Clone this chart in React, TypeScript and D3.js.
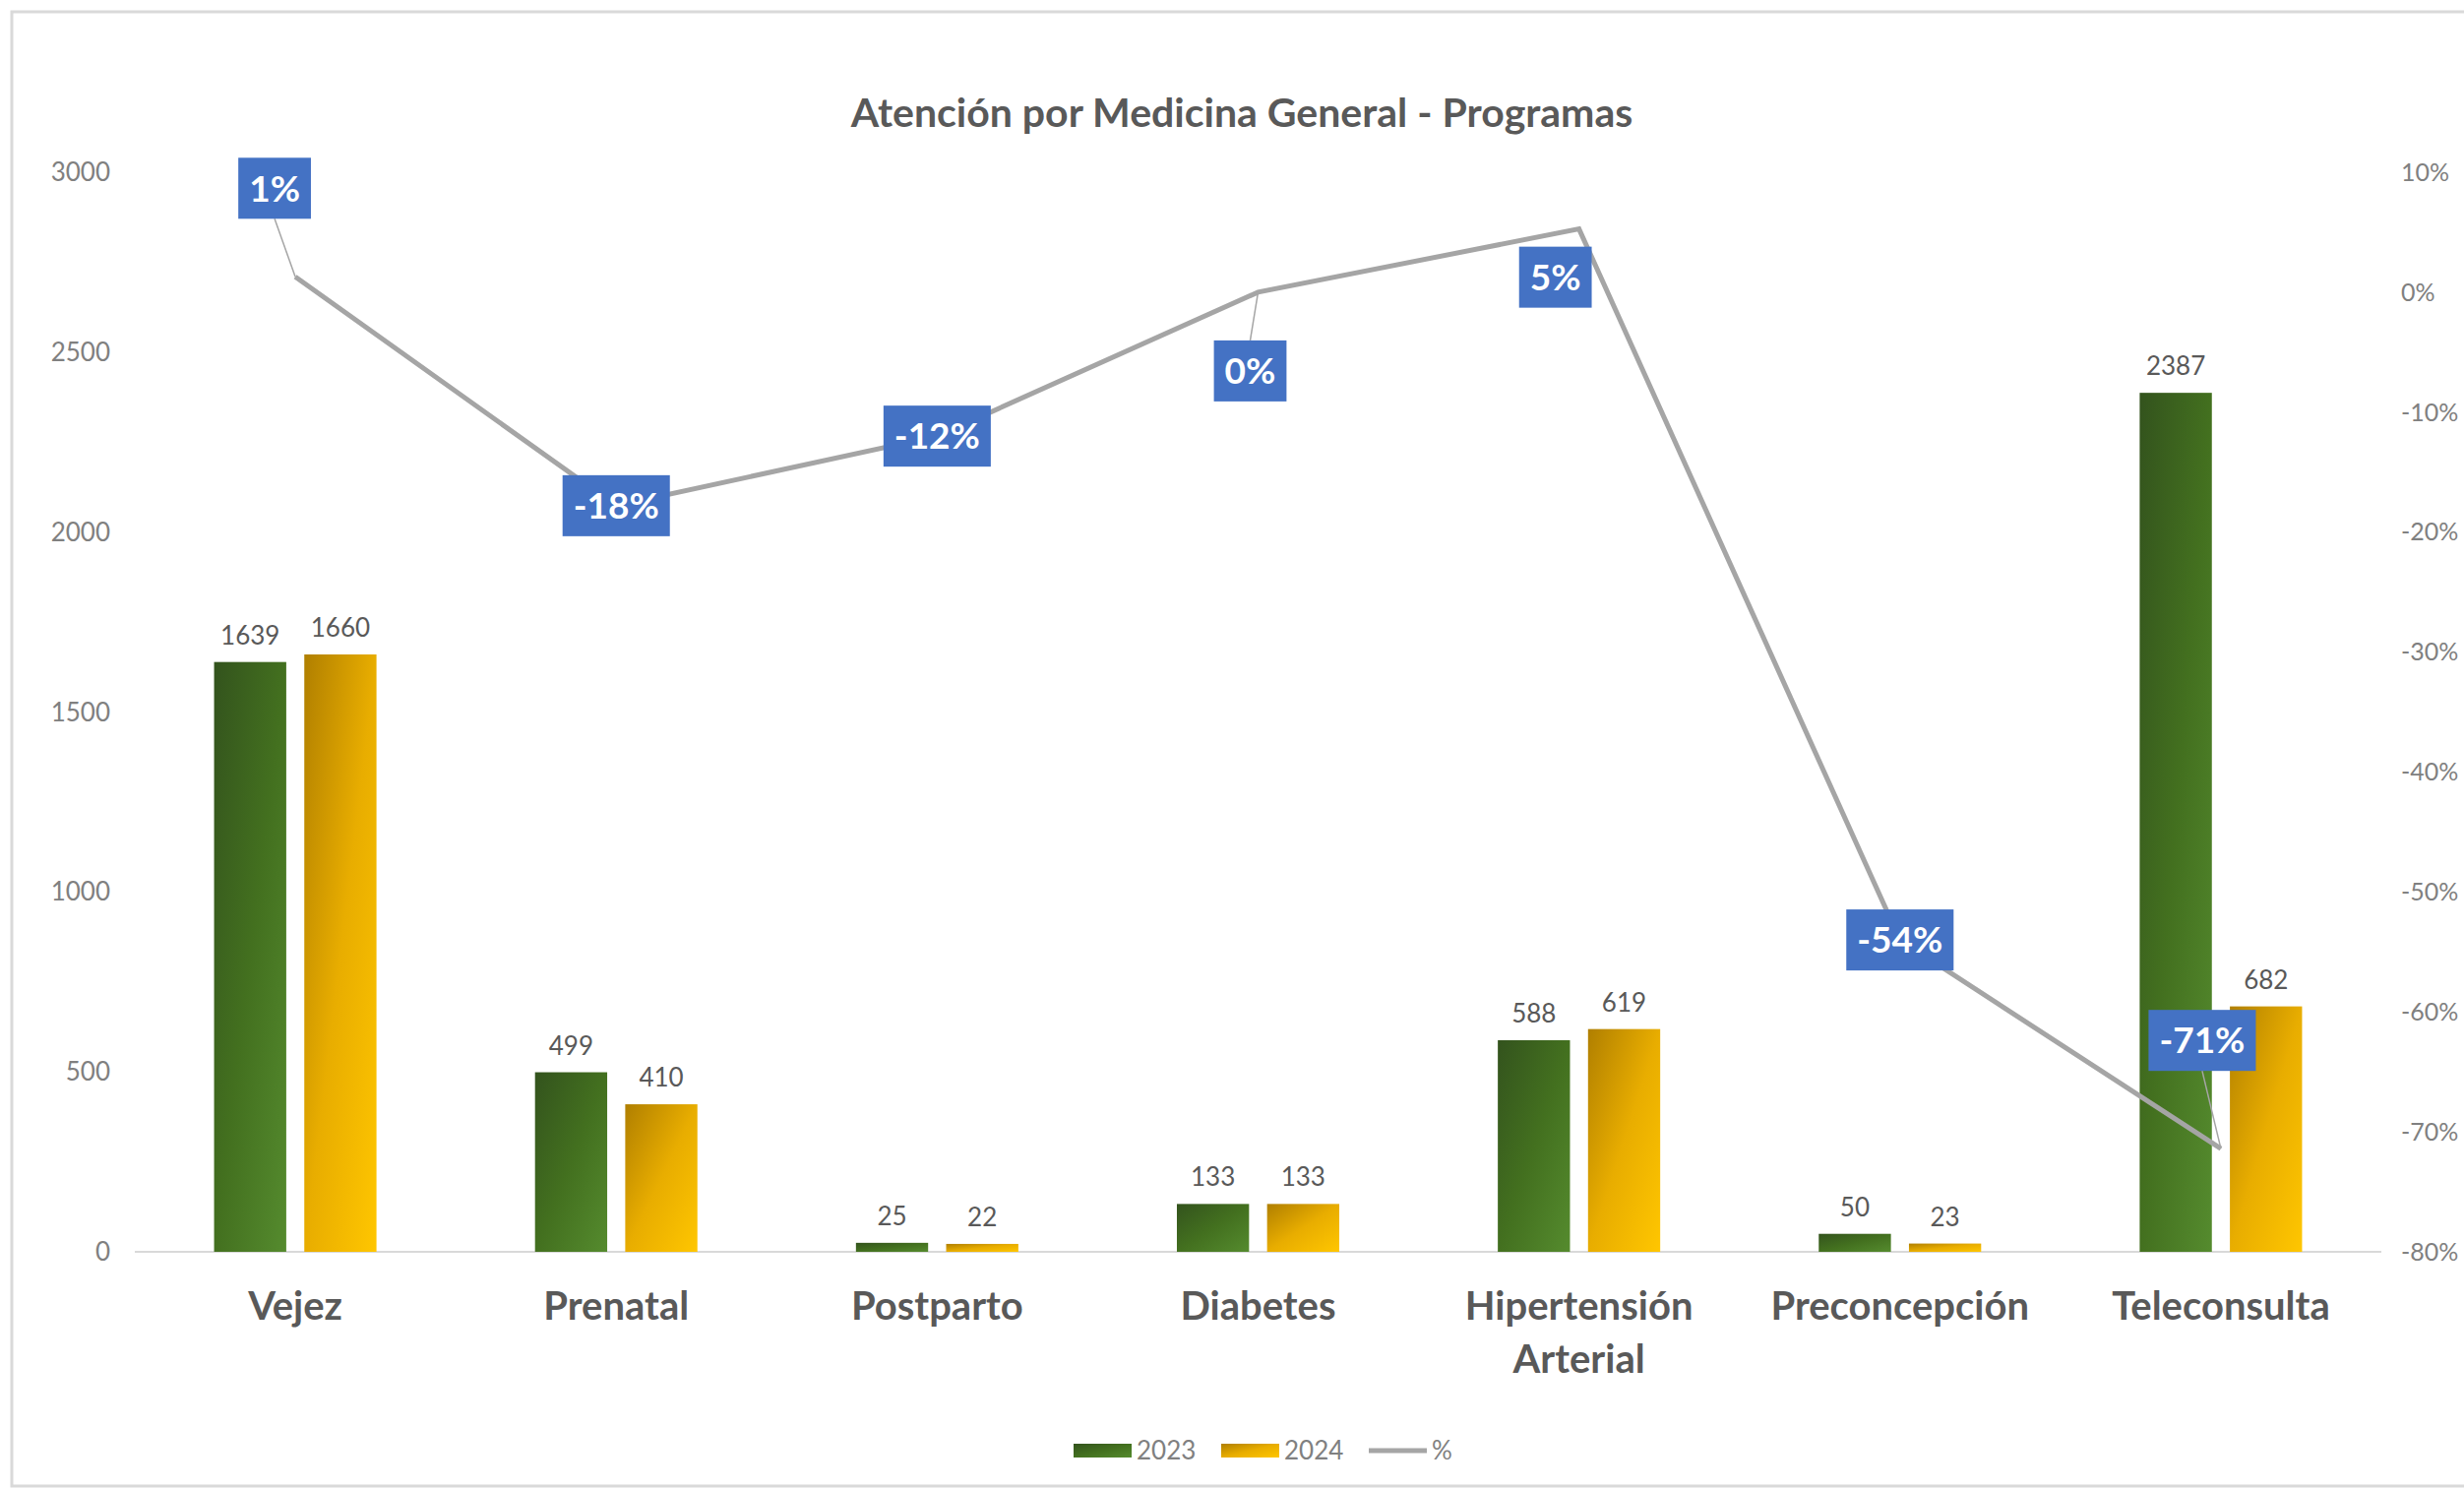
import React, { useEffect, useRef } from 'react';
import * as d3 from 'd3';

const categories = ['Vejez', 'Prenatal', 'Postparto', 'Diabetes', 'Hipertensión\nArterial', 'Preconcepción', 'Teleconsulta'];
const seriesNames = ['2023', '2024'];
const values2023 = [1639, 499, 25, 133, 588, 50, 2387];
const values2024 = [1660, 410, 22, 133, 619, 23, 682];
const pctChange = [0.0128, -0.178, -0.12, 0, 0.0527, -0.54, -0.714];
const pctLabels = ['1%', '-18%', '-12%', '0%', '5%', '-54%', '-71%'];
const leftTicks = [0, 500, 1000, 1500, 2000, 2500, 3000];
const rightTicks = [0.1, 0, -0.1, -0.2, -0.3, -0.4, -0.5, -0.6, -0.7, -0.8];
const titleText = 'Atención por Medicina General - Programas';

// layout: offsets of the % label boxes from their points (px)
const pctLabelOffsets: [number, number][] = [[-21, -90], [0, 0], [0, 0], [-8, 80], [-24, 49], [0, 0], [-19, -110]];

const W = 2504, H = 1513;
const FONT = 'Lato, "Open Sans", sans-serif';

export default function App() {
  const ref = useRef<SVGSVGElement>(null);

  useEffect(() => {
    document.body.style.margin = '0';
    const svg = d3.select(ref.current);
    svg.selectAll('*').remove();

    const plotLeft = 137, plotRight = 2420, plotTop = 175, plotBottom = 1272;

    const x0 = d3.scaleBand<string>().domain(categories).range([plotLeft, plotRight]).paddingInner(0.494).paddingOuter(0.247);
    const x1 = d3.scaleBand<string>().domain(seriesNames).range([0, x0.bandwidth()]).paddingInner(0.2);
    const yL = d3.scaleLinear().domain([0, 3000]).range([plotBottom, plotTop]);
    const yR = d3.scaleLinear().domain([-0.8, 0.1]).range([plotBottom, plotTop]);
    const cx = (c: string) => (x0(c) as number) + x0.bandwidth() / 2;

    // frame
    svg.append('rect').attr('x', 12).attr('y', 12).attr('width', W).attr('height', 1498)
      .attr('fill', '#fff').attr('stroke', '#d9d9d9').attr('stroke-width', 3);

    const defs = svg.append('defs');
    const mk = (id: string, stops: [number, string][]) => {
      const g = defs.append('linearGradient').attr('id', id).attr('x1', 0).attr('y1', 0).attr('x2', 1).attr('y2', 1);
      stops.forEach(([o, c]) => g.append('stop').attr('offset', o).attr('stop-color', c));
    };
    mk('g2023', [[0, '#33531d'], [0.5, '#43701f'], [1, '#558b2e']]);
    mk('g2024', [[0, '#b07f00'], [0.5, '#e8ad00'], [1, '#ffc600']]);
    const fills: Record<string, string> = { '2023': 'url(#g2023)', '2024': 'url(#g2024)' };

    // title
    svg.append('text').attr('x', 1262).attr('y', 129).attr('text-anchor', 'middle')
      .attr('font-family', FONT).attr('font-weight', 700).attr('font-size', 41).attr('fill', '#595959').text(titleText);

    // left axis tick labels
    svg.append('g').selectAll('text').data(leftTicks).join('text')
      .attr('x', 112).attr('y', d => yL(d)).attr('dy', '0.35em').attr('text-anchor', 'end')
      .attr('font-family', FONT).attr('font-size', 26).attr('fill', '#808080').text(d => String(d));

    // right axis tick labels
    svg.append('g').selectAll('text').data(rightTicks).join('text')
      .attr('x', 2440).attr('y', d => yR(d)).attr('dy', '0.35em').attr('text-anchor', 'start')
      .attr('font-family', FONT).attr('font-size', 25).attr('fill', '#808080').text(d => d3.format('.0%')(d).replace('−', '-'));

    // baseline
    svg.append('line').attr('x1', plotLeft).attr('x2', plotRight).attr('y1', yL(0)).attr('y2', yL(0))
      .attr('stroke', '#d9d9d9').attr('stroke-width', 2);

    const rows = categories.map((c, i) => ({ c, v: { '2023': values2023[i], '2024': values2024[i] } as Record<string, number> }));

    // bars
    const groups = svg.append('g').selectAll('g').data(rows).join('g')
      .attr('transform', d => `translate(${x0(d.c)},0)`);
    groups.selectAll('rect').data(d => seriesNames.map(s => ({ s, v: d.v[s] }))).join('rect')
      .attr('x', d => x1(d.s) as number).attr('width', x1.bandwidth())
      .attr('y', d => yL(d.v)).attr('height', d => yL(0) - yL(d.v)).attr('fill', d => fills[d.s]);
    groups.selectAll('text').data(d => seriesNames.map(s => ({ s, v: d.v[s] }))).join('text')
      .attr('x', d => (x1(d.s) as number) + x1.bandwidth() / 2).attr('y', d => yL(d.v) - 18)
      .attr('text-anchor', 'middle').attr('font-family', FONT).attr('font-size', 26).attr('fill', '#595959')
      .text(d => String(d.v));

    // line
    const pts = categories.map((c, i) => [cx(c), yR(pctChange[i])] as [number, number]);
    svg.append('path').attr('d', d3.line()(pts)).attr('fill', 'none').attr('stroke', '#a5a5a5')
      .attr('stroke-width', 5).attr('stroke-linejoin', 'miter');

    // % labels
    const boxH = 62;
    const lg = svg.append('g');
    pts.forEach(([px, py], i) => {
      const [dx, dy] = pctLabelOffsets[i];
      const bx = px + dx, by = py + dy;
      const t = lg.append('text').attr('x', bx).attr('y', by).attr('dy', '0.36em').attr('text-anchor', 'middle')
        .attr('font-family', FONT).attr('font-weight', 700).attr('font-size', 37).attr('fill', '#ffffff')
        .text(pctLabels[i]);
      const tw = (t.node() as SVGTextElement).getComputedTextLength();
      const bw = tw + 22;
      if (Math.abs(dy) > 60) {
        const ty = dy > 0 ? by - boxH / 2 : by + boxH / 2;
        lg.insert('line', 'text').attr('x1', px).attr('y1', py).attr('x2', bx).attr('y2', ty)
          .attr('stroke', '#a5a5a5').attr('stroke-width', 1.5);
      }
      lg.insert('rect', 'text').attr('x', bx - bw / 2).attr('y', by - boxH / 2).attr('width', bw).attr('height', boxH)
        .attr('fill', '#4472c4');
      t.raise();
    });

    // category labels
    const cg = svg.append('g');
    categories.forEach(c => {
      const lines = c.split('\n');
      const t = cg.append('text').attr('x', cx(c)).attr('y', 1341).attr('text-anchor', 'middle')
        .attr('font-family', FONT).attr('font-weight', 700).attr('font-size', 40).attr('fill', '#595959');
      lines.forEach((l, k) => t.append('tspan').attr('x', cx(c)).attr('dy', k === 0 ? 0 : 54).text(l));
    });

    // legend
    const leg = svg.append('g');
    const ly = 1474;
    const legendItems = [
      { name: seriesNames[0], kind: 'rect', fill: 'url(#g2023)', x: 1091 },
      { name: seriesNames[1], kind: 'rect', fill: 'url(#g2024)', x: 1241 },
      { name: '%', kind: 'line', fill: '#a5a5a5', x: 1391 },
    ];
    legendItems.forEach(it => {
      if (it.kind === 'rect') {
        leg.append('rect').attr('x', it.x).attr('y', ly - 7).attr('width', 59).attr('height', 14).attr('fill', it.fill);
      } else {
        leg.append('line').attr('x1', it.x).attr('x2', it.x + 59).attr('y1', ly).attr('y2', ly)
          .attr('stroke', it.fill).attr('stroke-width', 5);
      }
      leg.append('text').attr('x', it.x + 64).attr('y', ly).attr('dy', '0.35em')
        .attr('font-family', FONT).attr('font-size', 26).attr('fill', '#808080').text(it.name);
    });
  }, []);

  return <svg ref={ref} width={W} height={H} style={{ display: 'block', background: '#fff' }} />;
}
